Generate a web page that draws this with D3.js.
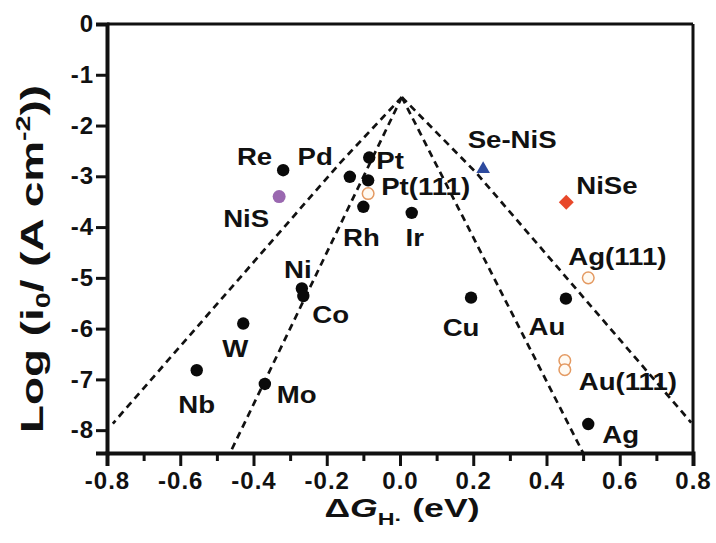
<!DOCTYPE html>
<html><head><meta charset="utf-8">
<script src="https://cdn.jsdelivr.net/npm/d3@7"></script>
<style>
body{margin:0;background:#fff}
text{font-family:"Liberation Sans",Arial,sans-serif;font-weight:bold;fill:#111}
</style>
</head><body><svg id="c" width="716" height="543"></svg>
<script>
// ---- data ----
const xTicks = [-0.8,-0.6,-0.4,-0.2,0.0,0.2,0.4,0.6,0.8];
const xMinorTicks = [-0.7,-0.5,-0.3,-0.1,0.1,0.3,0.5,0.7];
const yTicks = [0,-1,-2,-3,-4,-5,-6,-7,-8];

const metalNames = ["Re","Pd","Pt","Pt-b","Rh","Ir","Ni","Co","W","Nb","Mo","Cu","Au","Ag"];
const metalX = [-0.319,-0.137,-0.084,-0.087,-0.100,0.032,-0.268,-0.264,-0.428,-0.555,-0.369,0.194,0.453,0.514];
const metalY = [-2.88,-3.01,-2.63,-3.08,-3.60,-3.72,-5.21,-5.36,-5.90,-6.82,-7.09,-5.39,-5.41,-7.88];

const surfNames = ["Pt(111)","Ag(111)","Au(111)-a","Au(111)"];
const surfX = [-0.087,0.514,0.450,0.450];
const surfY = [-3.34,-5.00,-6.63,-6.81];

const nisName = ["NiS"],    nisX = [-0.330], nisY = [-3.40];
const seNisName = ["Se-NiS"], seNisX = [0.227], seNisY = [-2.84];
const niSeName = ["NiSe"],  niSeX = [0.454], niSeY = [-3.51];

const outerLeftX = [0.005,-0.164,-0.784], outerLeftY = [-1.44,-2.74,-7.87];
const innerLeftX = [0.005,-0.464], innerLeftY = [-1.44,-8.45];
const innerRightX = [0.005,0.500], innerRightY = [-1.44,-8.45];
const outerRightX = [0.005,0.208,0.795], outerRightY = [-1.44,-2.93,-7.85];

// label placement (pixel offsets from marker: anchor, dx, dy)
const labelLayout = {
  "Re":["end",-11,-5], "Pd":["end",-17,-12], "Pt":["start",7,11], "Pt(111)":["start",13,1.5],
  "Rh":["middle",-2,39], "Ir":["middle",3,33], "Ni":["middle",-4,-11], "Co":["start",9,27],
  "W":["middle",-8,33], "Nb":["middle",0,43], "Mo":["start",12,19], "Cu":["middle",-10,38],
  "Au":["middle",-19,36], "Ag":["start",14,19], "Ag(111)":["start",-20,-13], "Au(111)":["start",14,20],
  "NiS":["end",-10,30], "Se-NiS":["middle",29,-20], "NiSe":["start",10,-8]
};

// ---- chart ----
const svg = d3.select("#c");
const L=107, R=693, T=24, B=453;
const x = d3.scaleLinear().domain([-0.8,0.8]).range([L,R]);
const y = d3.scaleLinear().domain([-8.45,0]).range([B,T]);

// frame top/right
svg.append("line").attr("x1",L).attr("x2",R).attr("y1",T).attr("y2",T).attr("stroke","#111").attr("stroke-width",3);
svg.append("line").attr("x1",R).attr("x2",R).attr("y1",T).attr("y2",B).attr("stroke","#111").attr("stroke-width",3);

// x axis
const gx = svg.append("g").attr("transform",`translate(0,${B})`)
  .call(d3.axisBottom(x).tickValues(xTicks).tickFormat(d3.format(".1f")).tickSize(13).tickPadding(6));
svg.append("g").attr("transform",`translate(0,${B})`)
  .call(d3.axisBottom(x).tickValues(xMinorTicks).tickFormat("").tickSize(8))
  .call(g=>g.select(".domain").remove());
// y axis
const gy = svg.append("g").attr("transform",`translate(${L},0)`)
  .call(d3.axisLeft(y).tickValues(yTicks).tickFormat(d3.format("d")).tickSize(11).tickPadding(2));

svg.selectAll(".domain").attr("stroke","#111").attr("stroke-width",4);
svg.selectAll(".tick line").attr("stroke","#111").attr("stroke-width",3);
svg.selectAll(".tick text").attr("font-size",24).attr("letter-spacing",1).attr("fill","#111")
  .style("font-family",'"Liberation Sans",Arial,sans-serif').style("font-weight","bold");
gy.selectAll(".tick text").text(d=>d===0?"0":String(d).replace("\u2212","-"));
gx.selectAll(".tick text").text(d=>d3.format(".1f")(d).replace("\u2212","-"));

// dashed volcano lines
const lineGen = d3.line().x(d=>x(d[0])).y(d=>y(d[1]));
[[outerLeftX,outerLeftY],[innerLeftX,innerLeftY],[innerRightX,innerRightY],[outerRightX,outerRightY]].forEach(([xs,ys])=>{
  svg.append("path").attr("d",lineGen(xs.map((v,i)=>[v,ys[i]])))
    .attr("fill","none").attr("stroke","#111").attr("stroke-width",2.7).attr("stroke-dasharray","7,5");
});

// markers
const metals = metalNames.map((n,i)=>({n,x:metalX[i],y:metalY[i]}));
svg.selectAll(".m").data(metals).join("circle")
  .attr("cx",d=>x(d.x)).attr("cy",d=>y(d.y)).attr("r",6.2).attr("fill","#0a0a0a");
const surfs = surfNames.map((n,i)=>({n,x:surfX[i],y:surfY[i]}));
svg.selectAll(".s").data(surfs).join("circle")
  .attr("cx",d=>x(d.x)).attr("cy",d=>y(d.y)).attr("r",5.8).attr("fill","#fffaf2")
  .attr("stroke","#e49a62").attr("stroke-width",1.5);
svg.append("circle").attr("cx",x(nisX[0])).attr("cy",y(nisY[0])).attr("r",6.5).attr("fill","#9a68b0");
svg.append("path").attr("d",d3.symbol(d3.symbolTriangle,80)())
  .attr("transform",`translate(${x(seNisX[0])},${y(seNisY[0])+1})`).attr("fill","#2d4a9e");
svg.append("path").attr("d",d3.symbol(d3.symbolSquare,112)())
  .attr("transform",`translate(${x(niSeX[0])},${y(niSeY[0])}) rotate(45)`).attr("fill","#e8482a");

// labels
const allPts = metals.concat(surfs,
  [{n:nisName[0],x:nisX[0],y:nisY[0]},{n:seNisName[0],x:seNisX[0],y:seNisY[0]},{n:niSeName[0],x:niSeX[0],y:niSeY[0]}]);
allPts.filter(d=>labelLayout[d.n]).forEach(d=>{
  const [a,dx,dy] = labelLayout[d.n];
  svg.append("text").attr("transform",`translate(${x(d.x)+dx},${y(d.y)+dy}) scale(1.15,1)`)
    .attr("text-anchor",a).attr("font-size",24).text(d.n);
});

// axis titles
const xt = svg.append("text").attr("x",402).attr("y",517).attr("text-anchor","middle").attr("font-size",26)
  .attr("textLength",155).attr("lengthAdjust","spacingAndGlyphs");
xt.append("tspan").text("\u0394");
xt.append("tspan").attr("font-style","italic").text("G");
xt.append("tspan").attr("font-size",17).attr("dy",8).text("H\u00B7");
xt.append("tspan").attr("dy",-8).text(" (eV)");

const yt = svg.append("text").attr("transform","translate(43,259) rotate(-90)").attr("text-anchor","middle").attr("font-size",32)
  .attr("textLength",348).attr("lengthAdjust","spacingAndGlyphs");
yt.append("tspan").text("Log (i");
yt.append("tspan").attr("font-size",20).attr("dy",7).text("0");
yt.append("tspan").attr("dy",-7).text("/ (A cm");
yt.append("tspan").attr("font-size",20).attr("dy",-13).text("-2");
yt.append("tspan").attr("dy",13).text("))");
</script></body></html>
